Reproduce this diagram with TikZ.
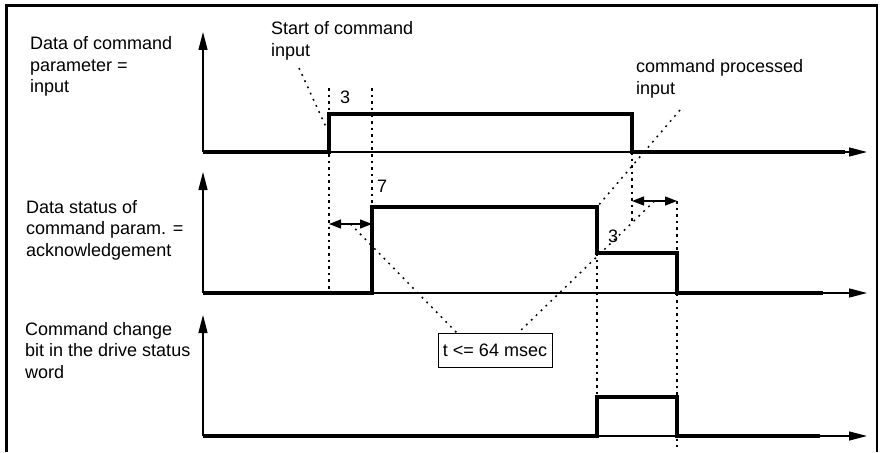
\documentclass[tikz,border=0pt]{standalone}
\usepackage{fontspec}
\setmainfont{Liberation Sans}
\usetikzlibrary{arrows.meta}

\begin{document}
\begin{tikzpicture}[x=1pt,y=-1pt,
  axis/.style={line width=1.3pt,-{Triangle[length=18pt,width=9pt]}},
  signal/.style={line width=3.6pt},
  guide/.style={line width=1.5pt,dash pattern=on 2.6pt off 4pt},
  leader/.style={line width=1.5pt,dash pattern=on 1.8pt off 5pt},
  span/.style={line width=1.3pt,{Triangle[length=12pt,width=9pt]}-{Triangle[length=12pt,width=9pt]}},
  caption/.style={font=\fontsize{18}{21.5}\selectfont,align=left,anchor=north west,inner sep=0pt},
  count/.style={font=\fontsize{18}{21.5}\selectfont,anchor=base,inner sep=0pt}]
  \useasboundingbox (0,0) rectangle (882,452);
  \draw[line width=2.4pt] (6.5,452) -- (6.5,5.5) -- (877,5.5) -- (877,452);

  \node[caption] (parIn) at (30,36.5) {Data of command\\parameter =\\input};
  \node[caption] (parAck) at (26,200) {Data status of\\command param. =\\acknowledgement};
  \node[caption] (chgBit) at (25,322) {Command change\\bit in the drive status\\word};
  \node[caption] (cmdStart) at (271,21.5) {Start of command\\input};
  \node[caption] (cmdDone) at (636,59.5) {command processed\\input};
  \node[count] (cnt3a) at (345,103) {3};
  \node[count] (cnt7) at (382,192) {7};
  \node[count] (cnt3b) at (613,242) {3};
  \node[draw,line width=1pt,minimum width=114pt,minimum height=34pt,inner sep=0pt,
    font=\fontsize{18}{21.5}\selectfont] (tmax) at (495,350) {t <= 64 msec};

  \foreach \y/\top in {152/32,293/172,436/315}{
    \draw[axis] (203,\y) -- (203,\top);
    \draw[axis] (203,\y) -- (867,\y);
  }

  \draw[guide] (329,88) -- (329,293);
  \draw[guide] (372,88) -- (372,207);
  \draw[guide] (632,152) -- (632,222);
  \draw[guide] (597,253) -- (597,397);
  \draw[guide] (677,201) -- (677,447);

  \draw[signal] (203,152) -- (329,152) -- (329,114) -- (632,114) -- (632,152) -- (845,152);
  \draw[signal] (203,293) -- (372,293) -- (372,207) -- (597,207) -- (597,253)
    -- (677,253) -- (677,293) -- (823,293);
  \draw[signal] (203,436) -- (597,436) -- (597,397) -- (677,397) -- (677,436) -- (820,436);

  \draw[span] (329,224) -- coordinate[pos=.5] (ackMid) (372,224);
  \draw[span] (632,201) -- coordinate[pos=.5] (doneMid) (677,201);

  \coordinate (startTail) at (299,68);
  \coordinate (startEdge) at (326,127);
  \coordinate (doneTail) at (680,110);
  \coordinate (doneEdge) at (597,207);
  \coordinate (tmaxL) at ([xshift=19pt]tmax.north west);
  \coordinate (tmaxR) at ([xshift=-34pt]tmax.north east);
  \draw[leader] (startTail) -- (startEdge);
  \draw[leader] (doneTail) -- (doneEdge);
  \draw[leader] (ackMid) -- (tmaxL);
  \draw[leader] (doneMid) -- (tmaxR);
\end{tikzpicture}
\end{document}
